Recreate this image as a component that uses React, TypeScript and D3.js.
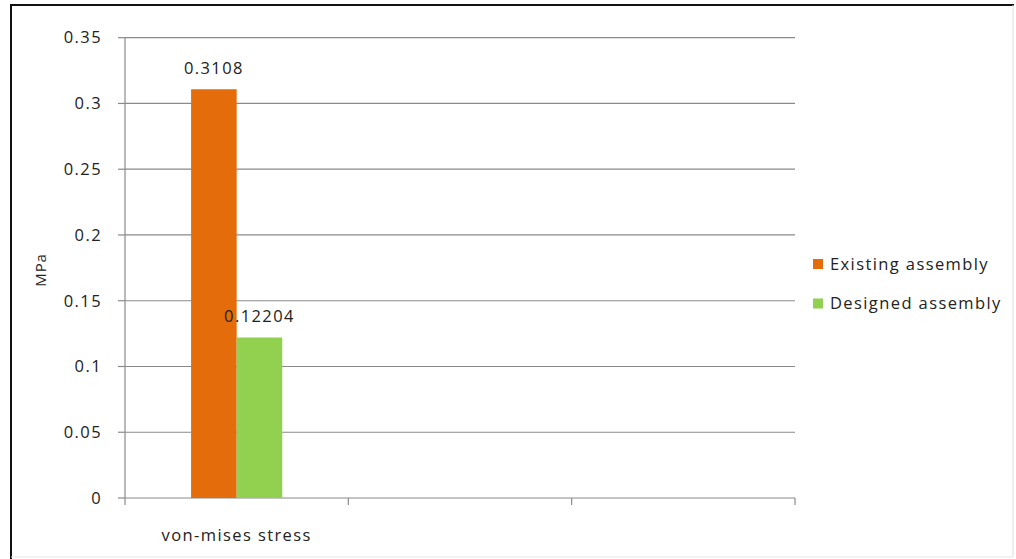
import React from "react";
import * as d3 from "d3";

const categories = ["von-mises stress", "", " "];
const seriesNames = ["Existing assembly", "Designed assembly"];
const seriesColors = ["#E46C0A", "#92D050"];
const existingValues = [0.3108, null, null];
const designedValues = [0.12204, null, null];
const valueLabels = [["0.3108", "0.12204"]];
const yTicks = [0, 0.05, 0.1, 0.15, 0.2, 0.25, 0.3, 0.35];

const W = 1016;
const H = 559;
const left = 125;
const right = 795;
const top = 37.7;
const bottom = 498;
const font = "'Open Sans', 'Liberation Sans', sans-serif";
const fs = 16.5;
const ls = 1.4;

export default function App() {
  const x = d3.scaleBand<string>().domain(categories).range([left, right]).padding(0);
  const y = d3.scaleLinear().domain([0, 0.35]).range([bottom, top]);
  const inner = d3
    .scaleBand<string>()
    .domain(seriesNames)
    .range([0, x.bandwidth()])
    .paddingInner(0)
    .paddingOuter(1.45);
  const series = [existingValues, designedValues];
  const tickXs = [...categories.map((c) => x(c) as number), right];

  return (
    <svg width={W} height={H} style={{ position: "absolute", left: 0, top: 0, fontFamily: font }}>
      <rect x={0} y={0} width={W} height={H} fill="#fff" />
      <line x1={10} y1={5} x2={1014} y2={5} stroke="#111" strokeWidth={2} />
      <line x1={11} y1={5} x2={11} y2={559} stroke="#111" strokeWidth={2} />
      <line x1={1013} y1={5} x2={1013} y2={557} stroke="#ddd" strokeWidth={1} />
      <line x1={11} y1={557} x2={1013} y2={557} stroke="#e6e6e6" strokeWidth={1} />
      {yTicks.map((t) => (
        <g key={t}>
          <line x1={left} x2={right} y1={y(t)} y2={y(t)} stroke="#8a8a8a" strokeWidth={1.2} />
          <line x1={118} x2={left} y1={y(t)} y2={y(t)} stroke="#8a8a8a" strokeWidth={1.2} />
          <text x={102} y={y(t)} dy="0.35em" textAnchor="end" fontSize={fs} letterSpacing={ls} fill="#222">
            {String(t)}
          </text>
        </g>
      ))}
      <line x1={left} x2={left} y1={top} y2={bottom} stroke="#8a8a8a" strokeWidth={1.2} />
      {tickXs.map((tx, i) => (
        <line key={i} x1={tx} x2={tx} y1={bottom} y2={bottom + 7} stroke="#8a8a8a" strokeWidth={1.2} />
      ))}
      {categories.map((c) => (
        <text key={c} x={(x(c) as number) + x.bandwidth() / 2} y={541} textAnchor="middle" fontSize={fs} letterSpacing={ls} fill="#222">
          {c.trim()}
        </text>
      ))}
      {series.map((vals, si) =>
        vals.map((v, ci) =>
          v == null ? null : (
            <rect
              key={`${si}-${ci}`}
              x={(x(categories[ci]) as number) + (inner(seriesNames[si]) as number)}
              y={y(v)}
              width={inner.bandwidth()}
              height={bottom - y(v)}
              fill={seriesColors[si]}
            />
          )
        )
      )}
      {series.map((vals, si) =>
        vals.map((v, ci) =>
          v == null ? null : (
            <text
              key={`l${si}-${ci}`}
              x={(x(categories[ci]) as number) + (inner(seriesNames[si]) as number) + inner.bandwidth() / 2}
              y={y(v) - 15}
              textAnchor="middle"
              fontSize={fs}
              letterSpacing={ls}
              fill="#222"
            >
              {valueLabels[ci][si]}
            </text>
          )
        )
      )}
      <text transform={`translate(46,270) rotate(-90)`} textAnchor="middle" fontSize={15} letterSpacing={0.8} fill="#222">
        MPa
      </text>
      {seriesNames.map((s, i) => (
        <g key={s} transform={`translate(813,${264 + i * 39.5})`}>
          <rect x={0} y={-5} width={10} height={10} fill={seriesColors[i]} />
          <text x={17} y={0} dy="0.35em" fontSize={fs} letterSpacing={ls} fill="#222">
            {s}
          </text>
        </g>
      ))}
    </svg>
  );
}
